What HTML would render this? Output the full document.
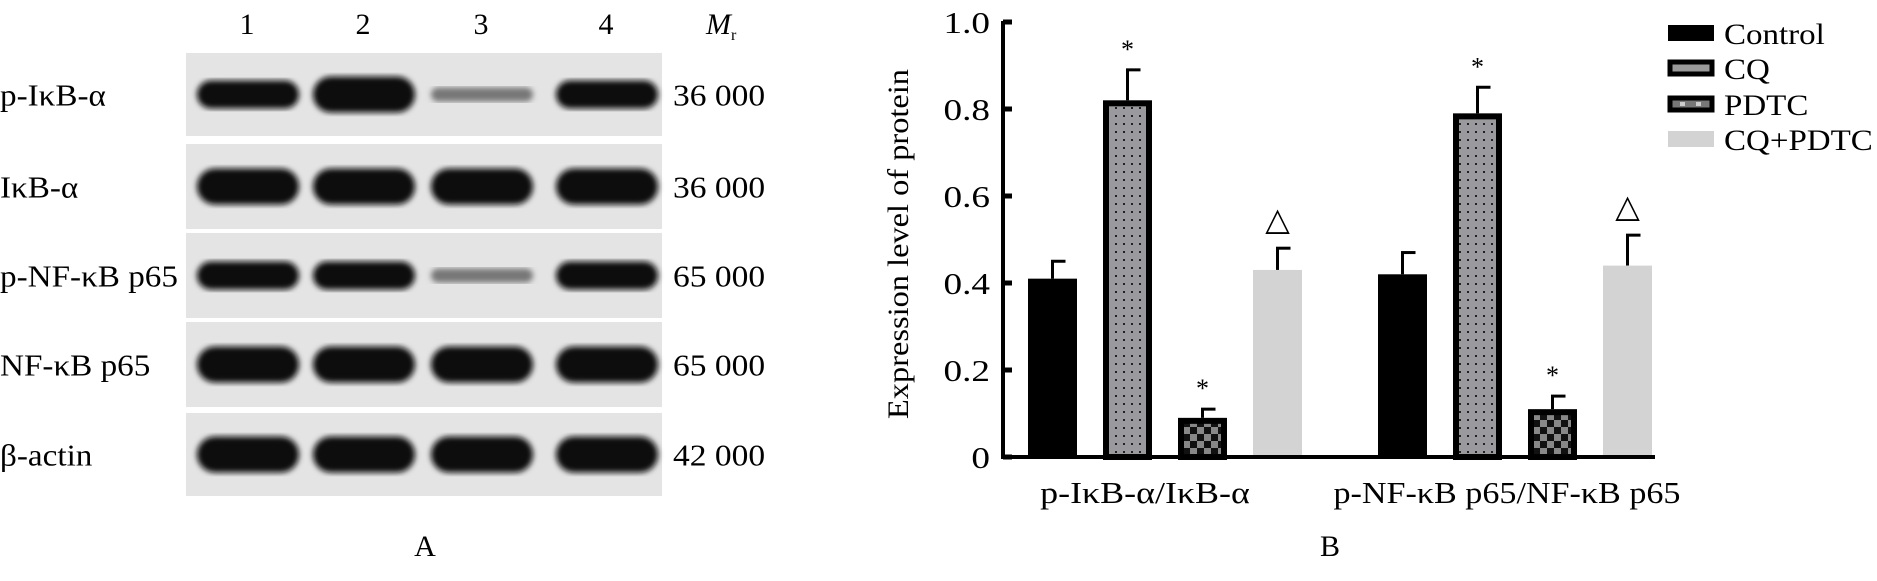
<!DOCTYPE html>
<html><head><meta charset="utf-8"><style>
body{margin:0;background:#fff;width:1877px;height:581px;overflow:hidden;font-family:"Liberation Serif",serif}
svg{position:absolute;left:0;top:0}
</style></head><body>
<svg width="1877" height="581" font-family="Liberation Serif, serif">
<defs>
<pattern id="dots" width="8" height="8" patternUnits="userSpaceOnUse"><rect width="8" height="8" fill="#9a9a9e"/><rect x="3" y="3" width="2" height="2" fill="#222"/></pattern>
<pattern id="check" width="14" height="14" patternUnits="userSpaceOnUse"><rect width="14" height="14" fill="#111"/><rect width="7" height="7" fill="#888"/><rect x="7" y="7" width="7" height="7" fill="#888"/></pattern>
<filter id="blur"><feGaussianBlur stdDeviation="3"/></filter>
</defs>
<g id="blot"></g>
<g id="chart"></g>
</svg>
<script>
const lanes=["1","2","3","4"];
const rowLabels=["p-IκB-α","IκB-α","p-NF-κB p65","NF-κB p65","β-actin"];
const mrValues=["36 000","36 000","65 000","65 000","42 000"];
const bandIntensity=[[0.9,1,0.25,0.9],[1,1,1,1],[0.9,0.85,0.3,0.9],[1,1,1,1],[1,1,1,1]];
const categories=["p-IκB-α/IκB-α","p-NF-κB p65/NF-κB p65"];
const seriesNames=["Control","CQ","PDTC","CQ+PDTC"];
const seriesValues=[[0.41,0.42],[0.82,0.79],[0.09,0.11],[0.43,0.44]];
const seriesErrors=[[0.04,0.05],[0.07,0.06],[0.02,0.03],[0.05,0.07]];
const seriesMarks=[["",""],["*","*"],["*","*"],["△","△"]];
const yTicks=[0,0.2,0.4,0.6,0.8,1.0];
const yTickLabels=["0","0.2","0.4","0.6","0.8","1.0"];

const NS="http://www.w3.org/2000/svg";
function mk(tag,attrs,parent,txt){const e=document.createElementNS(NS,tag);for(const k in attrs)e.setAttribute(k,attrs[k]);if(txt!==undefined)e.textContent=txt;parent.appendChild(e);return e;}
function stretch(t,k){const L=t.getComputedTextLength();t.setAttribute('textLength',L*k);t.setAttribute('lengthAdjust','spacingAndGlyphs');}

// Blot
const blot=document.getElementById('blot');
const laneX=[247,363,481,606];
const rowY=[[53,136],[144,229],[233,318],[322,407],[413,496]];
lanes.forEach((l,i)=>{const t=mk('text',{x:laneX[i],y:34,'font-size':30,'text-anchor':'middle'},blot,l);
});
const mr=mk('text',{x:706,y:34,'font-size':30,'font-style':'italic'},blot,'M');

mk('tspan',{'font-size':16,'font-style':'normal',dy:6},mr,'r');
rowLabels.forEach((lab,r)=>{
 const [y0,y1]=rowY[r];const cy=(y0+y1)/2;
 const p=mk('rect',{x:186,y:y0,width:476,height:y1-y0,fill:'#e4e4e4'},blot);
 
 bandIntensity[r].forEach((v,i)=>{
  const h=v>=1?36:(v>0.5?28:14);
  const b=mk('rect',{x:laneX[i]-50,y:cy-h/2,width:102,height:h,rx:h/2,fill:v<0.5?'#777':'#0a0a0a',filter:'url(#blur)'},blot);
  
 });
 const t=mk('text',{x:0,y:cy+11,'font-size':31},blot,lab);
 
 stretch(t,1.07);
 const m=mk('text',{x:673,y:cy+11,'font-size':31},blot,mrValues[r]);
 
 stretch(m,1.08);
});
const pa=mk('text',{x:425,y:556,'font-size':30,'text-anchor':'middle'},blot,'A');


// Chart
const ch=document.getElementById('chart');
const x0=1003,y0=457,y1=22,xEnd=1655;
const Y=v=>y0-(y0-y1)*v;
const groupStart=[1028,1378],barStep=75,barW=49;
const fills=['#000','url(#dots)','url(#check)','#d3d3d3'];
seriesNames.forEach((s,si)=>{
 categories.forEach((c,ci)=>{
  const v=seriesValues[si][ci],e=seriesErrors[si][ci];
  const bx=groupStart[ci]+si*barStep,cx=bx+barW/2;
  const top=Y(v+e);
  const el=mk('line',{x1:cx,x2:cx,y1:Y(v),y2:top,stroke:'#000','stroke-width':3},ch);
  
  mk('line',{x1:cx-1.5,x2:cx+13,y1:top,y2:top,stroke:'#000','stroke-width':3},ch);
  const bordered=(si===1||si===2);
  const r=mk('rect',{x:bordered?bx+3:bx,y:bordered?Y(v)+3:Y(v),width:bordered?barW-6:barW,height:bordered?(y0-Y(v)-3):(y0-Y(v)),fill:fills[si],stroke:bordered?'#000':'none','stroke-width':6},ch);
  
  const mark=seriesMarks[si][ci];
  if(mark){const t=mk('text',{x:cx,y:top-(mark==='*'?12:18),'font-size':mark==='*'?26:32,'text-anchor':'middle'},ch,mark);
   }
 });
});
const ax=mk('line',{x1:x0,x2:x0,y1:y1-1,y2:y0+2,stroke:'#000','stroke-width':4},ch);

const xa=mk('line',{x1:x0-2,x2:xEnd,y1:y0,y2:y0,stroke:'#000','stroke-width':4},ch);

yTicks.forEach((t,i)=>{
 mk('line',{x1:x0,x2:x0+9,y1:Y(t),y2:Y(t),stroke:'#000','stroke-width':5},ch);
 const l=mk('text',{x:x0-13,y:Y(t)+11,'font-size':31,'text-anchor':'end'},ch,yTickLabels[i]);
 
 stretch(l,1.2);
});
const yt=mk('text',{x:0,y:0,'font-size':30,'text-anchor':'middle',transform:'translate(908,244) rotate(-90)'},ch,'Expression level of protein');

stretch(yt,1.08);
const catShift=[-20,-8],catK=[1.16,1.1];
categories.forEach((c,ci)=>{
 const cx=groupStart[ci]+1.5*barStep+barW/2+catShift[ci];
 const t=mk('text',{x:cx,y:503,'font-size':31,'text-anchor':'middle'},ch,c);
 
 stretch(t,catK[ci]);
});
const legY=[33,68,104,139];
seriesNames.forEach((s,si)=>{
 const g=mk('g',{},ch);
 
 if(si===1||si===2){mk('rect',{x:1670,y:legY[si]-6,width:42,height:12,fill:si===1?'#999':'#777',stroke:'#000','stroke-width':5},g);
  if(si===2){mk('rect',{x:1680,y:legY[si]-2,width:5,height:4,fill:'#ccc'},g);mk('rect',{x:1696,y:legY[si]-2,width:5,height:4,fill:'#ccc'},g);}}
 else mk('rect',{x:1668,y:legY[si]-8,width:46,height:16,fill:si===0?'#000':'#d3d3d3'},g);
 const t=mk('text',{x:1724,y:legY[si]+11,'font-size':30},g,s);
 stretch(t,1.1);
});
const pb=mk('text',{x:1330,y:556,'font-size':30,'text-anchor':'middle'},ch,'B');

</script>
</body></html>
